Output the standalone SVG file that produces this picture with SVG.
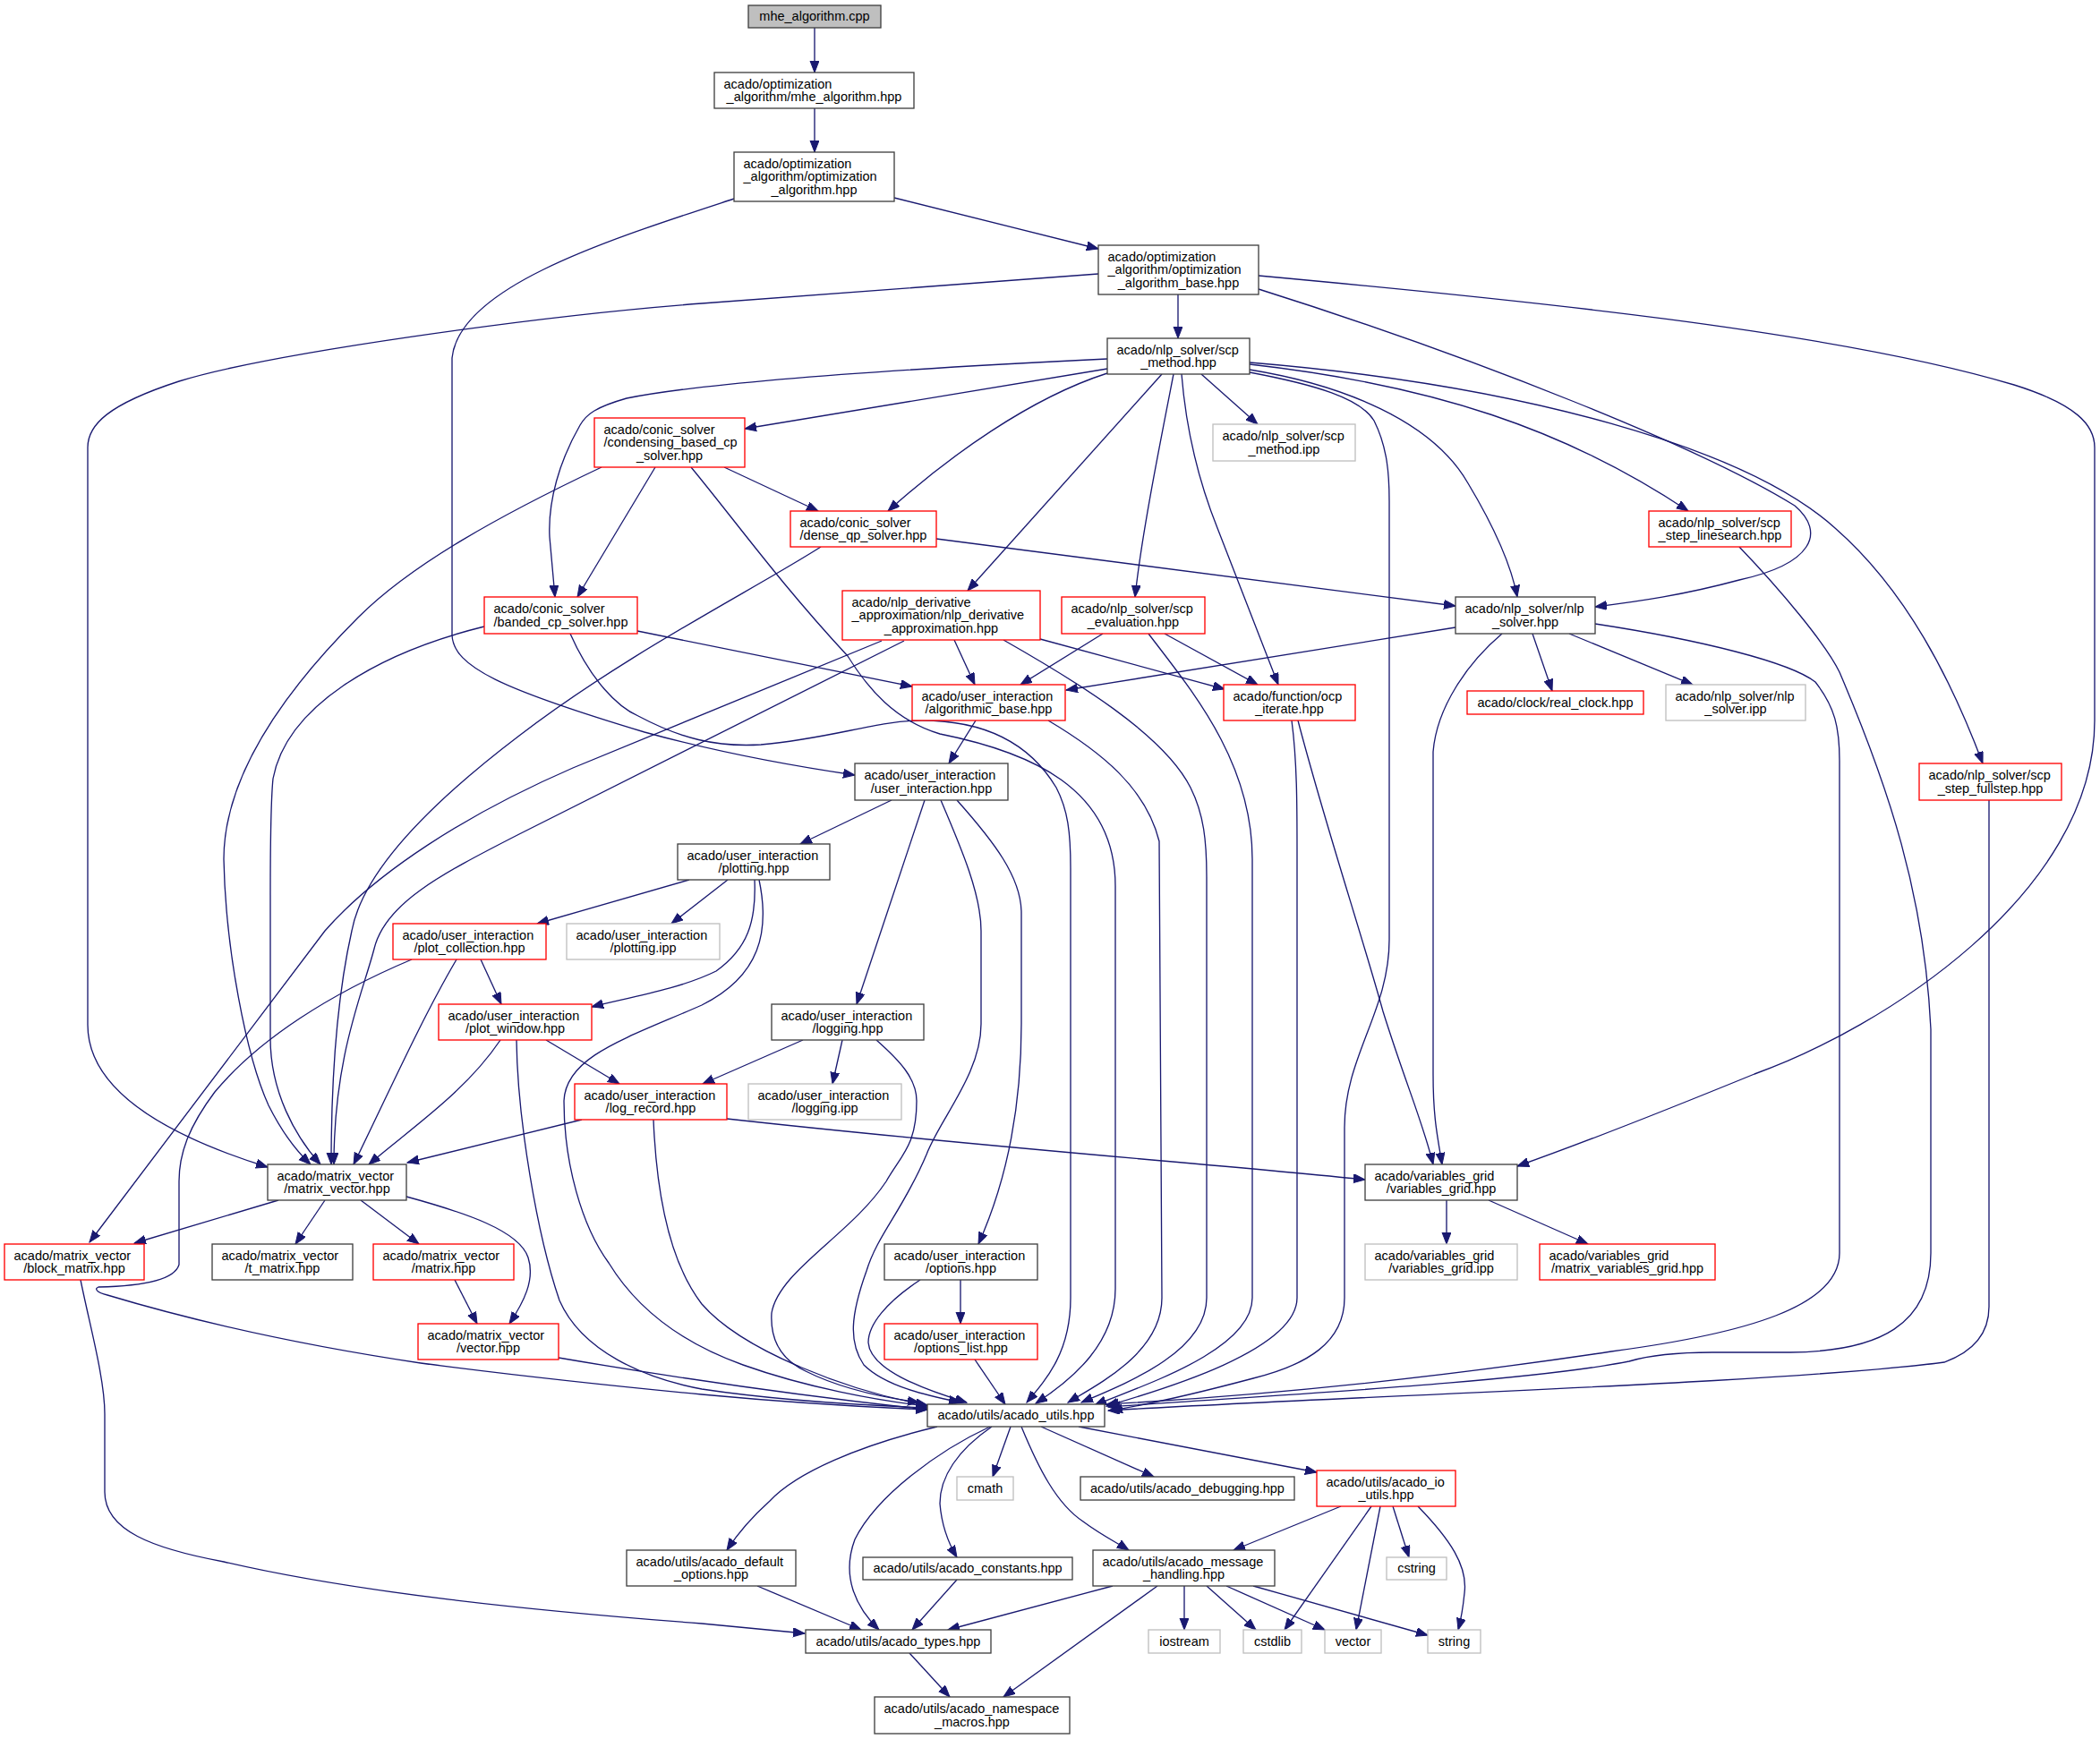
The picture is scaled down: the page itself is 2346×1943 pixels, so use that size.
<svg xmlns="http://www.w3.org/2000/svg" width="2346" height="1943" viewBox="0 0 2346 1943">
<defs>
<style>
.e{fill:none;stroke:#191970;stroke-width:1.33;marker-end:url(#ah)}
rect{fill:#fff;stroke:#404040;stroke-width:1.33}
.r rect{stroke:#ff0000}
.g rect{stroke:#bfbfbf}
.root rect{fill:#bfbfbf;stroke:#404040}
text{font-family:"Liberation Sans",Arial,sans-serif;font-size:14.5px;fill:#000}
.m{text-anchor:middle}
</style>
<marker id="ah" markerUnits="userSpaceOnUse" markerWidth="14" markerHeight="11" refX="13" refY="5" orient="auto">
<path d="M0,0 L13,5 L0,10 z" fill="#191970" stroke="#191970" stroke-width="1"/>
</marker>
</defs>
<rect x="0" y="0" width="2346" height="1943" style="fill:#fff;stroke:none"/>
<g id="edges">
<path class="e" d="M910,31 L910,81"/>
<path class="e" d="M910,121 L910,170"/>
<path class="e" d="M999,221 L1227,278"/>
<path class="e" d="M820,222 C680,268 513,320 505,400 L505,710 C507,745 560,770 720,818 C800,840 880,855 955,866"/>
<path class="e" d="M1316,329 L1316,378"/>
<path class="e" d="M1227,306 L784,339 C600,353 300,395 200,426 C120,452 98,475 98,500 L98,1145 C98,1220 190,1270 299,1304"/>
<path class="e" d="M1406,323 C1650,400 1900,500 2005,565 C2040,595 2025,630 1943,648 C1880,665 1830,672 1782,678"/>
<path class="e" d="M1406,308 C1700,335 2050,370 2250,430 C2320,452 2340,475 2340,500 L2340,805 C2340,1000 2100,1150 1960,1200 C1850,1245 1760,1280 1695,1303"/>
<path class="e" d="M1237,412 L832,479"/>
<path class="e" d="M1237,417 C1150,445 1060,510 992,571"/>
<path class="e" d="M1237,401 C1050,410 800,425 700,445 C665,455 655,463 648,475 C625,515 612,560 614,600 L620,667"/>
<path class="e" d="M1298,418 L1081,660"/>
<path class="e" d="M1311,418 C1295,500 1275,600 1268,667"/>
<path class="e" d="M1320,418 C1325,480 1340,540 1360,590 L1428,765"/>
<path class="e" d="M1342,418 L1405,474"/>
<path class="e" d="M1396,416 C1470,430 1520,445 1535,470 C1550,500 1552,530 1552,560 L1552,1050 C1552,1130 1502,1180 1502,1260 L1502,1450 C1502,1500 1460,1525 1400,1540 C1340,1556 1290,1568 1241,1576"/>
<path class="e" d="M1396,413 C1500,430 1600,470 1640,540 C1670,590 1688,630 1695,667"/>
<path class="e" d="M1396,407 C1600,430 1750,480 1886,571"/>
<path class="e" d="M1396,405 C1700,430 1950,500 2050,590 C2130,660 2180,760 2215,853"/>
<path class="e" d="M809,522 L914,571"/>
<path class="e" d="M732,522 L645,667"/>
<path class="e" d="M672,522 C560,575 460,630 400,690 C300,790 250,880 250,960 C252,1060 275,1180 300,1235 C315,1265 330,1285 347,1301"/>
<path class="e" d="M772,522 C820,580 870,650 947,733 C970,770 1000,805 1050,820 C1150,840 1246,880 1246,990 L1246,1440 C1246,1500 1200,1540 1157,1568"/>
<path class="e" d="M712,705 L1019,767"/>
<path class="e" d="M541,700 C420,730 320,790 305,870 C302,900 302,950 302,1000 L302,1160 C302,1220 330,1270 358,1301"/>
<path class="e" d="M637,708 C660,760 690,790 713,800 C760,825 800,835 850,832 C930,825 980,805 1030,805 C1100,805 1150,830 1180,880 C1193,905 1196,930 1196,970 L1196,1450 C1196,1510 1170,1540 1147,1567"/>
<path class="e" d="M1046,602 L1626,677"/>
<path class="e" d="M917,611 C840,660 700,730 580,822 C480,898 405,975 393,1040 C375,1120 370,1220 370,1301"/>
<path class="e" d="M985,716 L640,858 C520,910 420,975 363,1040 L100,1388"/>
<path class="e" d="M1010,716 L580,932 C490,978 430,1010 418,1060 C405,1110 373,1180 373,1301"/>
<path class="e" d="M1066,715 L1089,765"/>
<path class="e" d="M1162,714 L1368,770"/>
<path class="e" d="M1121,715 C1200,760 1300,820 1330,880 C1345,910 1348,940 1348,980 L1348,1450 C1348,1510 1260,1545 1208,1567"/>
<path class="e" d="M1232,708 L1140,765"/>
<path class="e" d="M1301,708 L1405,765"/>
<path class="e" d="M1283,708 C1330,770 1399,850 1399,960 L1399,1450 C1399,1510 1270,1550 1223,1570"/>
<path class="e" d="M1626,701 L1191,771"/>
<path class="e" d="M1712,708 L1734,772"/>
<path class="e" d="M1753,708 L1891,765"/>
<path class="e" d="M1678,708 C1640,740 1605,790 1601,840 L1601,1200 C1601,1250 1606,1270 1611,1301"/>
<path class="e" d="M1782,697 C1900,715 2000,740 2028,762 C2050,790 2055,813 2055,850 L2055,1400 C2055,1460 1950,1490 1800,1510 C1600,1540 1400,1560 1236,1569"/>
<path class="e" d="M1943,611 C1990,660 2040,720 2055,751 C2110,880 2150,1000 2157,1150 L2157,1400 C2157,1480 2100,1510 2000,1511 L1913,1511 C1870,1511 1840,1515 1820,1521 C1700,1545 1400,1560 1238,1572"/>
<path class="e" d="M2222,894 L2222,1460 C2222,1490 2205,1510 2172,1522 C2000,1545 1500,1560 1238,1576"/>
<path class="e" d="M1090,805 L1060,853"/>
<path class="e" d="M1171,805 C1230,840 1280,880 1295,940 L1298,1450 C1298,1510 1230,1545 1193,1567"/>
<path class="e" d="M1443,805 C1449,850 1449,900 1449,950 L1449,1450 C1449,1510 1290,1555 1236,1571"/>
<path class="e" d="M1450,805 C1480,920 1520,1040 1545,1130 C1570,1210 1590,1255 1601,1301"/>
<path class="e" d="M996,894 L894,943"/>
<path class="e" d="M1033,894 L957,1122"/>
<path class="e" d="M1051,894 C1075,950 1096,1000 1096,1040 L1096,1144 C1096,1200 1050,1250 1035,1290 C1010,1350 980,1380 968,1420 C950,1470 948,1500 965,1525 C990,1550 1040,1560 1073,1567"/>
<path class="e" d="M1069,894 C1110,940 1141,980 1141,1020 L1141,1144 C1141,1250 1120,1330 1093,1390"/>
<path class="e" d="M770,983 L600,1032"/>
<path class="e" d="M813,983 L750,1032"/>
<path class="e" d="M843,983 C845,1030 835,1060 800,1085 C760,1105 700,1115 661,1125"/>
<path class="e" d="M848,983 C860,1040 850,1090 784,1123 C700,1160 632,1180 630,1230 C630,1300 650,1370 680,1411 C710,1460 760,1500 830,1525 C900,1550 980,1565 1036,1571"/>
<path class="e" d="M537,1072 L560,1122"/>
<path class="e" d="M510,1072 C470,1140 430,1230 395,1301"/>
<path class="e" d="M460,1072 C370,1110 290,1160 240,1220 C210,1260 200,1290 200,1320 L200,1413 C195,1430 160,1437 110,1438 C105,1440 108,1444 120,1447 C230,1480 350,1505 470,1523 C600,1540 700,1550 784,1558 C870,1566 960,1572 1036,1575"/>
<path class="e" d="M610,1162 L692,1211"/>
<path class="e" d="M559,1162 C520,1220 460,1260 412,1301"/>
<path class="e" d="M577,1162 C578,1250 600,1380 625,1453 C650,1510 720,1540 784,1552 C870,1565 960,1570 1036,1573"/>
<path class="e" d="M650,1251 L455,1299"/>
<path class="e" d="M730,1251 C732,1300 740,1400 784,1457 C830,1510 950,1555 1036,1570"/>
<path class="e" d="M812,1250 C1100,1282 1350,1300 1525,1318"/>
<path class="e" d="M897,1162 L785,1211"/>
<path class="e" d="M941,1162 L930,1211"/>
<path class="e" d="M979,1162 C1005,1185 1024,1205 1024,1230 C1024,1280 1007,1290 990,1320 C950,1380 870,1420 862,1467 C860,1500 875,1520 900,1532 C940,1552 990,1562 1027,1567"/>
<path class="e" d="M1073,1430 L1073,1479"/>
<path class="e" d="M1028,1430 C990,1455 970,1480 970,1500 C972,1530 1030,1552 1080,1567"/>
<path class="e" d="M1089,1519 L1123,1569"/>
<path class="e" d="M311,1341 L150,1389"/>
<path class="e" d="M363,1341 L330,1390"/>
<path class="e" d="M403,1341 L468,1390"/>
<path class="e" d="M454,1337 C520,1355 580,1375 590,1405 C598,1430 585,1455 569,1479"/>
<path class="e" d="M508,1430 L533,1479"/>
<path class="e" d="M624,1517 C700,1530 850,1555 1036,1575"/>
<path class="e" d="M90,1430 C100,1480 117,1540 117,1580 L117,1667 C117,1710 170,1730 250,1745 C400,1780 600,1800 784,1814 L899,1825"/>
<path class="e" d="M1616,1341 L1616,1390"/>
<path class="e" d="M1663,1341 L1774,1390"/>
<path class="e" d="M1047,1594 C960,1615 890,1645 860,1677 C840,1695 825,1712 812,1732"/>
<path class="e" d="M1106,1594 C1050,1620 980,1670 955,1720 C940,1760 955,1795 982,1821"/>
<path class="e" d="M1108,1594 C1070,1620 1050,1650 1050,1680 C1052,1705 1060,1725 1069,1740"/>
<path class="e" d="M1129,1594 L1109,1650"/>
<path class="e" d="M1141,1594 C1160,1640 1180,1680 1210,1700 C1230,1715 1250,1725 1261,1732"/>
<path class="e" d="M1163,1594 L1289,1650"/>
<path class="e" d="M1205,1594 L1471,1645"/>
<path class="e" d="M846,1772 L962,1821"/>
<path class="e" d="M1069,1765 L1019,1821"/>
<path class="e" d="M1243,1772 L1059,1821"/>
<path class="e" d="M1293,1772 L1121,1896"/>
<path class="e" d="M1323,1772 L1323,1821"/>
<path class="e" d="M1348,1772 L1403,1821"/>
<path class="e" d="M1370,1772 L1480,1821"/>
<path class="e" d="M1400,1772 L1595,1827"/>
<path class="e" d="M1498,1683 L1378,1732"/>
<path class="e" d="M1532,1683 L1435,1821"/>
<path class="e" d="M1542,1683 L1515,1821"/>
<path class="e" d="M1556,1683 L1574,1740"/>
<path class="e" d="M1584,1683 C1620,1720 1640,1750 1636,1780 C1634,1800 1632,1810 1629,1821"/>
<path class="e" d="M1016,1847 L1061,1896"/>
</g>
<g id="node1" class="root"><rect x="836" y="6" width="148" height="25"/><text class="m" x="910" y="23.25">mhe_algorithm.cpp</text></g>
<g id="node2"><rect x="798" y="81" width="223" height="40"/><text x="808.5" y="98.5">acado/optimization</text><text class="m" x="909.5" y="113">_algorithm/mhe_algorithm.hpp</text></g>
<g id="node3"><rect x="820" y="170" width="179" height="55"/><text x="830.5" y="187.75">acado/optimization</text><text x="830.5" y="202.25">_algorithm/optimization</text><text class="m" x="909.5" y="216.75">_algorithm.hpp</text></g>
<g id="node4"><rect x="1227" y="274" width="179" height="55"/><text x="1237.5" y="291.75">acado/optimization</text><text x="1237.5" y="306.25">_algorithm/optimization</text><text class="m" x="1316.5" y="320.75">_algorithm_base.hpp</text></g>
<g id="node5"><rect x="1237" y="378" width="159" height="40"/><text x="1247.5" y="395.5">acado/nlp_solver/scp</text><text class="m" x="1316.5" y="410">_method.hpp</text></g>
<g id="node6" class="r"><rect x="664" y="467" width="168" height="55"/><text x="674.5" y="484.75">acado/conic_solver</text><text x="674.5" y="499.25">/condensing_based_cp</text><text class="m" x="748" y="513.75">_solver.hpp</text></g>
<g id="node7" class="g"><rect x="1355" y="474" width="159" height="41"/><text x="1365.5" y="492">acado/nlp_solver/scp</text><text class="m" x="1434.5" y="506.5">_method.ipp</text></g>
<g id="node8" class="r"><rect x="883" y="571" width="163" height="40"/><text x="893.5" y="588.5">acado/conic_solver</text><text class="m" x="964.5" y="603">/dense_qp_solver.hpp</text></g>
<g id="node9" class="r"><rect x="1842" y="571" width="159" height="40"/><text x="1852.5" y="588.5">acado/nlp_solver/scp</text><text class="m" x="1921.5" y="603">_step_linesearch.hpp</text></g>
<g id="node10" class="r"><rect x="541" y="667" width="171" height="41"/><text x="551.5" y="685">acado/conic_solver</text><text class="m" x="626.5" y="699.5">/banded_cp_solver.hpp</text></g>
<g id="node11" class="r"><rect x="941" y="660" width="221" height="55"/><text x="951.5" y="677.75">acado/nlp_derivative</text><text x="951.5" y="692.25">_approximation/nlp_derivative</text><text class="m" x="1051.5" y="706.75">_approximation.hpp</text></g>
<g id="node12" class="r"><rect x="1186" y="667" width="160" height="41"/><text x="1196.5" y="685">acado/nlp_solver/scp</text><text class="m" x="1266" y="699.5">_evaluation.hpp</text></g>
<g id="node13"><rect x="1626" y="667" width="156" height="41"/><text x="1636.5" y="685">acado/nlp_solver/nlp</text><text class="m" x="1704" y="699.5">_solver.hpp</text></g>
<g id="node14" class="r"><rect x="1019" y="765" width="171" height="40"/><text x="1029.5" y="782.5">acado/user_interaction</text><text class="m" x="1104.5" y="797">/algorithmic_base.hpp</text></g>
<g id="node15" class="r"><rect x="1367" y="765" width="147" height="40"/><text x="1377.5" y="782.5">acado/function/ocp</text><text class="m" x="1440.5" y="797">_iterate.hpp</text></g>
<g id="node16" class="r"><rect x="1639" y="772" width="197" height="26"/><text class="m" x="1737.5" y="789.75">acado/clock/real_clock.hpp</text></g>
<g id="node17" class="g"><rect x="1861" y="765" width="156" height="40"/><text x="1871.5" y="782.5">acado/nlp_solver/nlp</text><text class="m" x="1939" y="797">_solver.ipp</text></g>
<g id="node18"><rect x="955" y="853" width="171" height="41"/><text x="965.5" y="871">acado/user_interaction</text><text class="m" x="1040.5" y="885.5">/user_interaction.hpp</text></g>
<g id="node19" class="r"><rect x="2144" y="853" width="159" height="41"/><text x="2154.5" y="871">acado/nlp_solver/scp</text><text class="m" x="2223.5" y="885.5">_step_fullstep.hpp</text></g>
<g id="node20"><rect x="757" y="943" width="170" height="40"/><text x="767.5" y="960.5">acado/user_interaction</text><text class="m" x="842" y="975">/plotting.hpp</text></g>
<g id="node21" class="r"><rect x="439" y="1032" width="171" height="40"/><text x="449.5" y="1049.5">acado/user_interaction</text><text class="m" x="524.5" y="1064">/plot_collection.hpp</text></g>
<g id="node22" class="g"><rect x="633" y="1032" width="171" height="40"/><text x="643.5" y="1049.5">acado/user_interaction</text><text class="m" x="718.5" y="1064">/plotting.ipp</text></g>
<g id="node23" class="r"><rect x="490" y="1122" width="171" height="40"/><text x="500.5" y="1139.5">acado/user_interaction</text><text class="m" x="575.5" y="1154">/plot_window.hpp</text></g>
<g id="node24"><rect x="862" y="1122" width="170" height="40"/><text x="872.5" y="1139.5">acado/user_interaction</text><text class="m" x="947" y="1154">/logging.hpp</text></g>
<g id="node25" class="r"><rect x="642" y="1211" width="170" height="40"/><text x="652.5" y="1228.5">acado/user_interaction</text><text class="m" x="727" y="1243">/log_record.hpp</text></g>
<g id="node26" class="g"><rect x="836" y="1211" width="171" height="40"/><text x="846.5" y="1228.5">acado/user_interaction</text><text class="m" x="921.5" y="1243">/logging.ipp</text></g>
<g id="node27"><rect x="299" y="1301" width="155" height="40"/><text x="309.5" y="1318.5">acado/matrix_vector</text><text class="m" x="376.5" y="1333">/matrix_vector.hpp</text></g>
<g id="node28"><rect x="1525" y="1301" width="170" height="40"/><text x="1535.5" y="1318.5">acado/variables_grid</text><text class="m" x="1610" y="1333">/variables_grid.hpp</text></g>
<g id="node29" class="r"><rect x="5" y="1390" width="156" height="40"/><text x="15.5" y="1407.5">acado/matrix_vector</text><text class="m" x="83" y="1422">/block_matrix.hpp</text></g>
<g id="node30"><rect x="237" y="1390" width="157" height="40"/><text x="247.5" y="1407.5">acado/matrix_vector</text><text class="m" x="315.5" y="1422">/t_matrix.hpp</text></g>
<g id="node31" class="r"><rect x="417" y="1390" width="157" height="40"/><text x="427.5" y="1407.5">acado/matrix_vector</text><text class="m" x="495.5" y="1422">/matrix.hpp</text></g>
<g id="node32" class="r"><rect x="467" y="1479" width="157" height="40"/><text x="477.5" y="1496.5">acado/matrix_vector</text><text class="m" x="545.5" y="1511">/vector.hpp</text></g>
<g id="node33"><rect x="988" y="1390" width="171" height="40"/><text x="998.5" y="1407.5">acado/user_interaction</text><text class="m" x="1073.5" y="1422">/options.hpp</text></g>
<g id="node34" class="r"><rect x="988" y="1479" width="171" height="40"/><text x="998.5" y="1496.5">acado/user_interaction</text><text class="m" x="1073.5" y="1511">/options_list.hpp</text></g>
<g id="node35" class="g"><rect x="1525" y="1390" width="170" height="40"/><text x="1535.5" y="1407.5">acado/variables_grid</text><text class="m" x="1610" y="1422">/variables_grid.ipp</text></g>
<g id="node36" class="r"><rect x="1720" y="1390" width="196" height="40"/><text x="1730.5" y="1407.5">acado/variables_grid</text><text class="m" x="1818" y="1422">/matrix_variables_grid.hpp</text></g>
<g id="node37"><rect x="1036" y="1569" width="198" height="25"/><text class="m" x="1135" y="1586.25">acado/utils/acado_utils.hpp</text></g>
<g id="node38" class="g"><rect x="1069" y="1650" width="63" height="26"/><text class="m" x="1100.5" y="1667.75">cmath</text></g>
<g id="node39"><rect x="1207" y="1650" width="239" height="26"/><text class="m" x="1326.5" y="1667.75">acado/utils/acado_debugging.hpp</text></g>
<g id="node40" class="r"><rect x="1471" y="1643" width="155" height="40"/><text x="1481.5" y="1660.5">acado/utils/acado_io</text><text class="m" x="1548.5" y="1675">_utils.hpp</text></g>
<g id="node41"><rect x="700" y="1732" width="189" height="40"/><text x="710.5" y="1749.5">acado/utils/acado_default</text><text class="m" x="794.5" y="1764">_options.hpp</text></g>
<g id="node42"><rect x="964" y="1740" width="234" height="25"/><text class="m" x="1081" y="1757.25">acado/utils/acado_constants.hpp</text></g>
<g id="node43"><rect x="1221" y="1732" width="203" height="40"/><text x="1231.5" y="1749.5">acado/utils/acado_message</text><text class="m" x="1322.5" y="1764">_handling.hpp</text></g>
<g id="node44" class="g"><rect x="1549" y="1740" width="67" height="25"/><text class="m" x="1582.5" y="1757.25">cstring</text></g>
<g id="node45"><rect x="900" y="1821" width="207" height="26"/><text class="m" x="1003.5" y="1838.75">acado/utils/acado_types.hpp</text></g>
<g id="node46" class="g"><rect x="1283" y="1821" width="80" height="26"/><text class="m" x="1323" y="1838.75">iostream</text></g>
<g id="node47" class="g"><rect x="1389" y="1821" width="65" height="26"/><text class="m" x="1421.5" y="1838.75">cstdlib</text></g>
<g id="node48" class="g"><rect x="1480" y="1821" width="63" height="26"/><text class="m" x="1511.5" y="1838.75">vector</text></g>
<g id="node49" class="g"><rect x="1595" y="1821" width="59" height="26"/><text class="m" x="1624.5" y="1838.75">string</text></g>
<g id="node50"><rect x="977" y="1896" width="218" height="41"/><text x="987.5" y="1914">acado/utils/acado_namespace</text><text class="m" x="1086" y="1928.5">_macros.hpp</text></g>
</svg>
